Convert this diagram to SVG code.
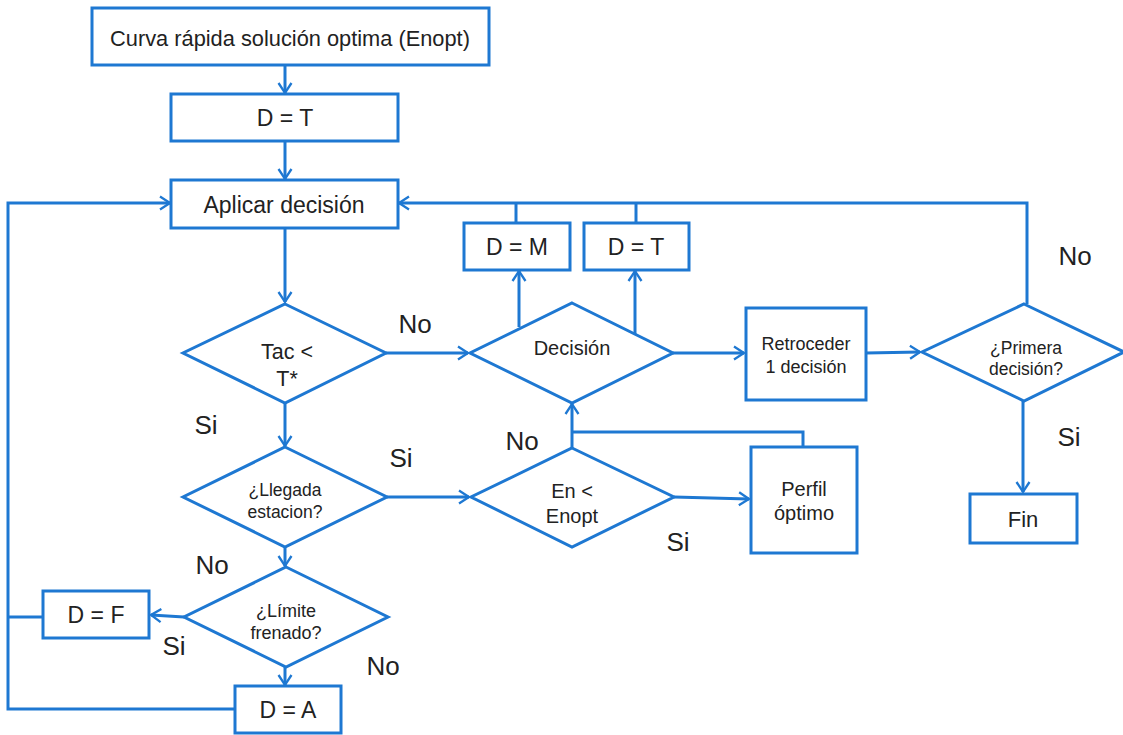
<svg xmlns="http://www.w3.org/2000/svg" width="1123" height="735" viewBox="0 0 1123 735">
<defs>
<marker id="ah" markerUnits="userSpaceOnUse" markerWidth="14" markerHeight="16" refX="11" refY="8" orient="auto">
<path d="M1,1.5 L11,8 L1,14.5" fill="none" stroke="#1e78d2" stroke-width="2.3"/>
</marker>
<style>
.b{fill:#fff;stroke:#1e78d2;stroke-width:3}
.c{fill:none;stroke:#1e78d2;stroke-width:3}
.a{marker-end:url(#ah)}
text{font-family:"Liberation Sans",Arial,sans-serif;fill:#222;text-anchor:middle}
.l{font-size:26px}
.m{font-size:23px}
</style>
</defs>
<rect width="1123" height="735" fill="#fff"/>
<g id="connectors">
<path class="c a" d="M285,65 L285,93"/>
<path class="c a" d="M285,141 L285,179"/>
<path class="c a" d="M285,228 L285,302"/>
<path class="c a" d="M285,403 L285,446"/>
<path class="c a" d="M285,547 L285,566"/>
<path class="c a" d="M285,667 L285,685"/>
<path class="c a" d="M386,353 L468,353"/>
<path class="c a" d="M387,497 L469,497"/>
<path class="c a" d="M184,617 L151,615"/>
<path class="c" d="M43,617 L8,617"/>
<path class="c a" d="M235,709 L8,709 L8,203 L170,203"/>
<path class="c a" d="M519,327 L519,271"/>
<path class="c a" d="M635,334 L635,271"/>
<path class="c" d="M516,222 L516,203"/>
<path class="c" d="M636,222 L636,203"/>
<path class="c a" d="M1027,304 L1027,203 L399,203"/>
<path class="c a" d="M673,353 L744,353"/>
<path class="c a" d="M866,353 L920,352"/>
<path class="c a" d="M1023,401 L1023,492"/>
<path class="c a" d="M572,448 L572,404"/>
<path class="c" d="M803,447 L803,432 L572,432"/>
<path class="c a" d="M674,497 L749,499"/>
</g>
<g id="n_curva"><rect class="b" x="92" y="8" width="397" height="57"/><text x="290" y="46" font-size="21.8">Curva rápida solución optima (Enopt)</text></g>
<g id="n_dt1"><rect class="b" x="171" y="94" width="227" height="47"/><text class="m" x="285" y="126">D = T</text></g>
<g id="n_aplicar"><rect class="b" x="171" y="180" width="227" height="48"/><text class="m" x="284" y="213">Aplicar decisión</text></g>
<g id="n_tac"><polygon class="b" points="285,304 386,353 285,403 183,353"/><text x="287" y="359" font-size="21.5">Tac &lt;</text><text x="287" y="386" font-size="21.5">T*</text></g>
<g id="n_llegada"><polygon class="b" points="285,447 387,497 285,547 183,497"/><text x="285" y="496" font-size="17.5">¿Llegada</text><text x="285" y="518" font-size="17.5">estacion?</text></g>
<g id="n_limite"><polygon class="b" points="286,567 388,617 286,667 184,617"/><text x="286" y="617" font-size="18">¿Límite</text><text x="286" y="639" font-size="18">frenado?</text></g>
<g id="n_df"><rect class="b" x="43" y="591" width="106" height="47"/><text class="m" x="96" y="623">D = F</text></g>
<g id="n_da"><rect class="b" x="235" y="686" width="106" height="47"/><text class="m" x="288" y="718">D = A</text></g>
<g id="n_decision"><polygon class="b" points="572,303 673,353 572,403 470,353"/><text x="572" y="355" font-size="20">Decisión</text></g>
<g id="n_dm"><rect class="b" x="464" y="223" width="106" height="47"/><text class="m" x="517" y="255">D = M</text></g>
<g id="n_dt2"><rect class="b" x="584" y="223" width="105" height="47"/><text class="m" x="636" y="255">D = T</text></g>
<g id="n_en"><polygon class="b" points="572,448 674,497 572,547 471,497"/><text x="572" y="498" font-size="20">En &lt;</text><text x="572" y="523" font-size="20">Enopt</text></g>
<g id="n_perfil"><rect class="b" x="751" y="447" width="106" height="106"/><text x="804" y="496" font-size="20">Perfil</text><text x="804" y="520" font-size="20">óptimo</text></g>
<g id="n_retro"><rect class="b" x="746" y="308" width="120" height="92"/><text x="806" y="350" font-size="18">Retroceder</text><text x="806" y="373" font-size="18">1 decisión</text></g>
<g id="n_primera"><polygon class="b" points="1024,304 1124,352 1024,401 922,352"/><text x="1026" y="354" font-size="17.5">¿Primera</text><text x="1026" y="375" font-size="17.5">decisión?</text></g>
<g id="n_fin"><rect class="b" x="970" y="494" width="107" height="49"/><text x="1023" y="527" font-size="22">Fin</text></g>
<g id="labels">
<text class="l" x="415" y="333">No</text>
<text class="l" x="206" y="434">Si</text>
<text class="l" x="401" y="467">Si</text>
<text class="l" x="522" y="450">No</text>
<text class="l" x="678" y="551">Si</text>
<text class="l" x="212" y="574">No</text>
<text class="l" x="174" y="655">Si</text>
<text class="l" x="383" y="675">No</text>
<text class="l" x="1075" y="265">No</text>
<text class="l" x="1069" y="446">Si</text>
</g>
</svg>
